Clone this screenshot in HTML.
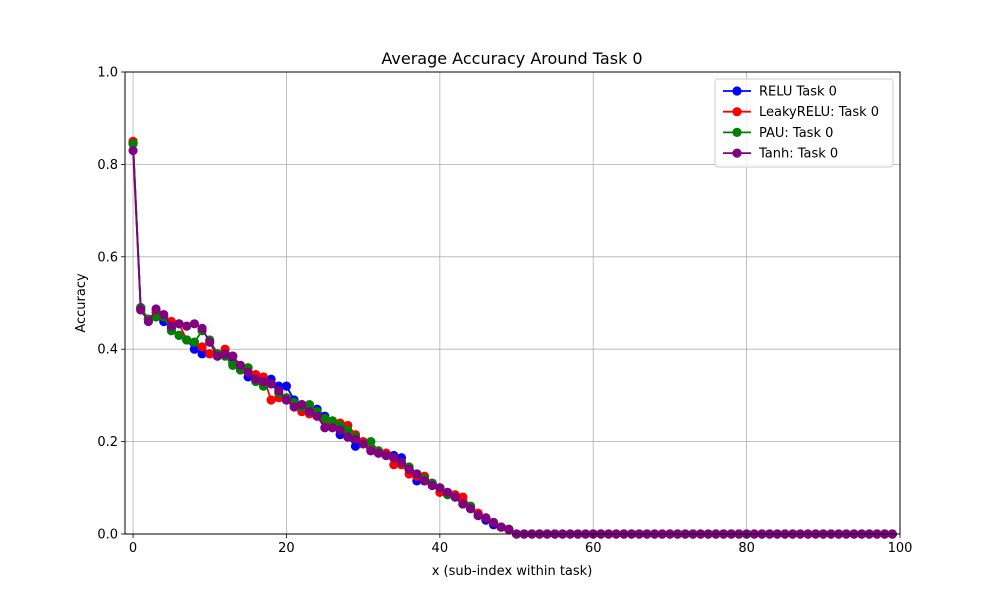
<!DOCTYPE html>
<html><head><meta charset="utf-8"><style>
body{margin:0;background:#fff;}
svg text{font-family:"DejaVu Sans","Liberation Sans",sans-serif;fill:#000;}
</style></head><body>
<svg id="chart" width="1000" height="600" xmlns="http://www.w3.org/2000/svg">
<rect width="1000" height="600" fill="#fff"/>
<text x="512" y="64" font-size="16" text-anchor="middle">Average Accuracy Around Task 0</text>
<g id="grid"></g>
<g id="series"></g>
<rect x="125" y="72" width="775" height="462" fill="none" stroke="#000" stroke-width="1"/>
<g id="axes"></g>
<text x="512" y="575" font-size="13" text-anchor="middle">x (sub-index within task)</text>
<text transform="translate(85,303) rotate(-90)" font-size="13" text-anchor="middle">Accuracy</text>
<g id="legend"></g>
</svg>
<script>
const xTicks=[0,20,40,60,80,100];
const yTicks=[0,0.2,0.4,0.6,0.8,1.0];
const seriesNames=["RELU Task 0","LeakyRELU: Task 0","PAU: Task 0","Tanh: Task 0"];
const seriesColors=["#0000ff","#ff0000","#008000","#800080"];
const reluHead=[0.845,0.49,0.465,0.47,0.46,0.445,0.43,0.42,0.4,0.39,0.39,0.385,0.39,0.37,0.36,0.34,0.335,0.33,0.335,0.32,0.32,0.29,0.28,0.27,0.27,0.255,0.235,0.215,0.21,0.19,0.195,0.185,0.18,0.17,0.17,0.165,0.14,0.115,0.115,0.11,0.1,0.09,0.08,0.07,0.055,0.04,0.03,0.02,0.015,0.01];
const leakyHead=[0.85,0.485,0.465,0.48,0.47,0.46,0.455,0.42,0.415,0.405,0.39,0.39,0.4,0.385,0.36,0.35,0.345,0.34,0.29,0.295,0.29,0.28,0.265,0.26,0.255,0.245,0.24,0.24,0.235,0.215,0.2,0.185,0.175,0.175,0.15,0.15,0.13,0.125,0.125,0.11,0.09,0.09,0.085,0.08,0.06,0.045,0.035,0.025,0.015,0.01];
const pauHead=[0.845,0.49,0.465,0.47,0.47,0.44,0.43,0.42,0.415,0.44,0.42,0.39,0.385,0.365,0.355,0.36,0.33,0.32,0.325,0.305,0.295,0.285,0.275,0.28,0.265,0.25,0.245,0.235,0.225,0.21,0.195,0.2,0.18,0.17,0.165,0.155,0.145,0.13,0.12,0.11,0.1,0.085,0.08,0.065,0.06,0.04,0.035,0.025,0.015,0.01];
const tanhHead=[0.83,0.485,0.46,0.487,0.475,0.45,0.455,0.45,0.455,0.445,0.415,0.385,0.39,0.385,0.365,0.35,0.335,0.33,0.325,0.31,0.29,0.275,0.28,0.265,0.255,0.23,0.23,0.225,0.21,0.205,0.195,0.18,0.175,0.17,0.165,0.155,0.14,0.13,0.115,0.105,0.1,0.09,0.08,0.065,0.055,0.04,0.035,0.025,0.015,0.01];
const tailZeros=new Array(50).fill(0);
const seriesValues=[reluHead.concat(tailZeros),leakyHead.concat(tailZeros),pauHead.concat(tailZeros),tanhHead.concat(tailZeros)];

const NS="http://www.w3.org/2000/svg";
const X0=125,X1=900,Y0=534,Y1=72,xmin=-1.05,xmax=100,ymin=0,ymax=1;
function sx(v){return X0+(v-xmin)/(xmax-xmin)*(X1-X0);}
function sy(v){return Y0-(v-ymin)/(ymax-ymin)*(Y0-Y1);}
function mk(tag,attrs,parent){const e=document.createElementNS(NS,tag);for(const k in attrs)e.setAttribute(k,attrs[k]);parent.appendChild(e);return e;}
const grid=document.getElementById('grid'),axes=document.getElementById('axes'),ser=document.getElementById('series'),leg=document.getElementById('legend');
xTicks.forEach(t=>{
  const g=mk('line',{x1:sx(t),x2:sx(t),y1:Y1,y2:Y0,stroke:'#b0b0b0','stroke-width':0.8},grid);
  
  
  mk('line',{x1:sx(t),x2:sx(t),y1:Y0,y2:Y0+4,stroke:'#000','stroke-width':0.8},axes);
  const tx=mk('text',{x:sx(t),y:Y0+18,'font-size':13,'text-anchor':'middle'},axes);
  tx.textContent=String(t);
  
  
});
yTicks.forEach(t=>{
  const g=mk('line',{x1:X0,x2:X1,y1:sy(t),y2:sy(t),stroke:'#b0b0b0','stroke-width':0.8},grid);
  
  
  mk('line',{x1:X0-4,x2:X0,y1:sy(t),y2:sy(t),stroke:'#000','stroke-width':0.8},axes);
  const tx=mk('text',{x:X0-7,y:sy(t)+4.5,'font-size':13,'text-anchor':'end'},axes);
  tx.textContent=t.toFixed(1);
  
  
});
seriesValues.forEach((vals,si)=>{
  const g=mk('g',{},ser);
  
  
  const pts=vals.map((v,i)=>sx(i)+','+sy(v)).join(' ');
  const pl=mk('polyline',{points:pts,fill:'none',stroke:seriesColors[si],'stroke-width':1.8},g);
  
  
  vals.forEach((v,i)=>{
    const c=mk('circle',{cx:sx(i),cy:sy(v),r:4.6,fill:seriesColors[si]},g);
    
    
  });
});
const lb=mk('rect',{x:715,y:79,width:178,height:88,rx:3,fill:'#fff','fill-opacity':0.8,stroke:'#ccc'},leg);


seriesNames.forEach((n,i)=>{
  const y=91+i*20.7;
  const g=mk('g',{},leg);
  
  
  mk('line',{x1:723,x2:751,y1:y,y2:y,stroke:seriesColors[i],'stroke-width':1.8},g);
  mk('circle',{cx:737,cy:y,r:4.6,fill:seriesColors[i]},g);
  const t=mk('text',{x:759,y:y+4.5,'font-size':13},g);
  t.textContent=n;
});
</script>
</body></html>
